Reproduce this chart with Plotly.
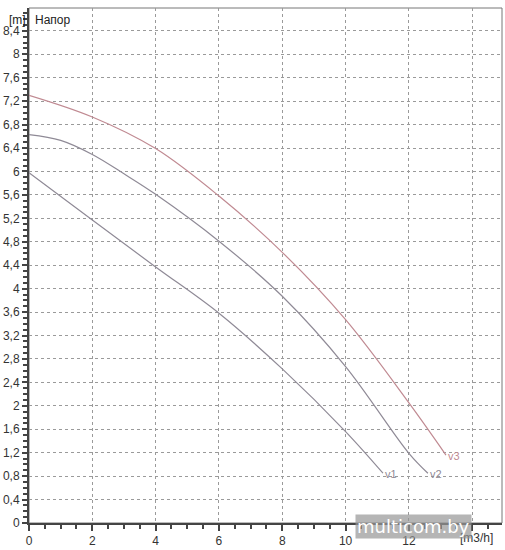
import plotly.graph_objects as go

# Data (flow m3/h, head m)
v1_x = [0, 2, 4, 6, 8, 10, 11.18]
v1_y = [5.98, 5.17, 4.37, 3.58, 2.63, 1.56, 0.85]
v2_x = [0, 1, 2, 3, 4, 6, 8, 10, 12, 12.6]
v2_y = [6.63, 6.53, 6.29, 5.96, 5.61, 4.81, 3.87, 2.67, 1.19, 0.85]
v3_x = [0, 2, 4, 6, 8, 10, 12, 13.17]
v3_y = [7.3, 6.93, 6.39, 5.58, 4.62, 3.47, 2.05, 1.16]
series_names = ["v1", "v2", "v3"]
series_colors = ["#8f8a96", "#8f8a96", "#c08a92"]

x_tickvals = [0, 2, 4, 6, 8, 10, 12, 14]
x_ticktext = ["0", "2", "4", "6", "8", "10", "12", ""]

fig = go.Figure()
for name, xs, ys, col in zip(series_names, [v1_x, v2_x, v3_x], [v1_y, v2_y, v3_y], series_colors):
    fig.add_trace(go.Scatter(x=xs, y=ys, mode="lines", name=name,
                             line=dict(color=col, width=1.2, shape="spline", smoothing=1.0),
                             showlegend=False, hoverinfo="skip"))
    fig.add_annotation(x=xs[-1], y=ys[-1], text=name, showarrow=False,
                       xanchor="left", yanchor="middle", xshift=0, yshift=-1,
                       font=dict(family="Liberation Sans, Arial", size=11, color=col))

font = dict(family="Liberation Sans, Arial", size=12, color="#333333")
fig.update_layout(
    width=505, height=550,
    margin=dict(l=29, r=3, t=8, b=27, autoexpand=False),
    paper_bgcolor="white", plot_bgcolor="white",
    separators=", ",
    font=font,
    xaxis=dict(range=[0, 14.94], tickvals=x_tickvals, ticktext=x_ticktext,
               showgrid=True, automargin=False,
               gridcolor="#9a9a9a", griddash="3px,3px", gridwidth=1,
               showline=True, linecolor="#444444", linewidth=2,
               ticks="outside", ticklen=6, tickcolor="#444444", tickwidth=1.5,
               minor=dict(dtick=0.5, tick0=0, ticks="outside", ticklen=4, tickcolor="#444444", showgrid=False),
               zeroline=False, tickfont=font),
    yaxis=dict(range=[0, 8.79], dtick=0.4, tick0=0, showgrid=True, automargin=False,
               gridcolor="#9a9a9a", griddash="3px,3px", gridwidth=1,
               showline=True, linecolor="#444444", linewidth=2,
               ticks="outside", ticklen=5, tickcolor="#444444", tickwidth=1.5,
               minor=dict(dtick=0.1, tick0=0, ticks="outside", ticklen=4, tickcolor="#444444", showgrid=False),
               zeroline=False, tickfont=font),
)

fig.add_shape(type="rect", xref="paper", yref="paper", x0=0, y0=0, x1=1, y1=1,
              line=dict(color="#777777", width=1), layer="below")

fig.add_annotation(xref="paper", yref="paper", x=0.008, y=1.0, text="Напор",
                   showarrow=False, xanchor="left", yanchor="top", yshift=-3,
                   font=dict(family="Liberation Sans, Arial", size=12, color="#222222"))
fig.add_annotation(xref="paper", yref="paper", x=-0.002, y=1.0, text="[m]",
                   showarrow=False, xanchor="right", yanchor="top", yshift=-3,
                   font=dict(family="Liberation Sans, Arial", size=12, color="#222222"))
fig.add_annotation(xref="paper", yref="paper", x=0.985, y=0, text="[m3/h]",
                   showarrow=False, xanchor="right", yanchor="top", yshift=-6,
                   font=dict(family="Liberation Sans, Arial", size=12, color="#333333"))
fig.add_annotation(xref="paper", yref="paper", x=0.69, y=0.0, text="multicom.by",
                   showarrow=False, xanchor="left", yanchor="middle", yshift=-3,
                   bgcolor="rgba(150,150,150,0.7)", borderpad=1,
                   font=dict(family="DejaVu Sans", size=18, color="white"))

fig.write_html("out.html", config={"displayModeBar": False},
               post_script="document.body.style.margin='0px';")
